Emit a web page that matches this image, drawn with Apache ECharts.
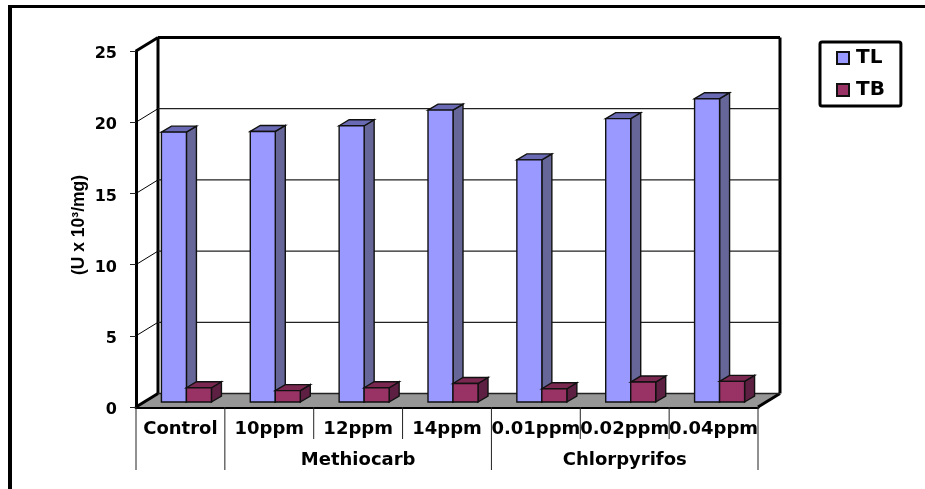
<!DOCTYPE html>
<html>
<head>
<meta charset="utf-8">
<style>html,body{margin:0;padding:0;background:#fff}#chart{width:925px;height:489px}</style>
<script src="https://cdn.jsdelivr.net/npm/echarts@6/dist/echarts.min.js"></script>
</head>
<body>
<div id="chart"></div>
<script>
var categories = ['Control', '10ppm', '12ppm', '14ppm', '0.01ppm', '0.02ppm', '0.04ppm'];
var groupLabels = ['', '', 'Methiocarb', '', '', 'Chlorpyrifos', ''];
var groupEdges = [0, 1, 4, 7];
var yTicks = [0, 5, 10, 15, 20, 25];
var tlValues = [18.95, 19.0, 19.4, 20.5, 17.0, 19.9, 21.3];
var tbValues = [1.0, 0.8, 1.0, 1.3, 0.93, 1.4, 1.45];

// fake 3d: how far the back wall and the bars sit from the front plane (px)
var WALL_DX = 22, WALL_DY = -13.5;
var BAR_DX = 6, BAR_DY = -5;
var BAR_W = 25, DEPTH_X = 10, DEPTH_Y = 6;
var FONT = '"DejaVu Sans"';

var chart = echarts.init(document.getElementById('chart'));

function poly(points, fill) {
  return {
    type: 'polygon',
    shape: { points: points },
    style: { fill: fill, stroke: '#111', lineWidth: 1.4 }
  };
}

function line(x1, y1, x2, y2, width, color) {
  return {
    type: 'line',
    shape: { x1: x1, y1: y1, x2: x2, y2: y2 },
    style: { stroke: color || '#000', lineWidth: width }
  };
}

// back wall, floor and the diagonal lines, one item for each y tick
function renderWall(params, api) {
  var v = api.value(1);
  var p = api.coord([0, v]);
  var band = api.size([1, 0])[0];
  var left = p[0] - band / 2;
  var right = left + band * categories.length;
  var y = p[1];
  var children = [];
  if (v === 0) {
    children.push({
      type: 'polygon',
      shape: { points: [[left, y], [left + WALL_DX, y + WALL_DY], [right + WALL_DX, y + WALL_DY], [right, y]] },
      style: { fill: '#969696' }
    });
    var topY = api.coord([0, yTicks[yTicks.length - 1]])[1];
    children.push(line(left + WALL_DX, y + WALL_DY, left + WALL_DX, topY + WALL_DY, 3));
    children.push(line(right + WALL_DX, y + WALL_DY, right + WALL_DX, topY + WALL_DY, 3));
    children.push(line(right + WALL_DX, y + WALL_DY, right, y, 3));
    children.push(line(left + WALL_DX, y + WALL_DY, right + WALL_DX, y + WALL_DY, 1.5, '#222'));
    children.push(line(left, y, left + WALL_DX, y + WALL_DY, 3));
  } else if (v === yTicks[yTicks.length - 1]) {
    children.push(line(left + WALL_DX, y + WALL_DY, right + WALL_DX, y + WALL_DY, 3));
    children.push(line(left, y, left + WALL_DX, y + WALL_DY, 3));
  } else {
    children.push(line(left + WALL_DX, y + WALL_DY, right + WALL_DX, y + WALL_DY, 1.2, '#222'));
    children.push(line(left, y, left + WALL_DX, y + WALL_DY, 1));
  }
  return { type: 'group', children: children };
}

function makeBar(shift, top, side) {
  return function (params, api) {
    var i = api.value(0);
    var p = api.coord([i, api.value(1)]);
    var base = api.coord([i, 0]);
    var x0 = p[0] + BAR_DX + shift;
    var x1 = x0 + BAR_W;
    var yt = p[1] + BAR_DY;
    var yb = base[1] + BAR_DY;
    return {
      type: 'group',
      children: [
        poly([[x1, yb], [x1 + DEPTH_X, yb - DEPTH_Y], [x1 + DEPTH_X, yt - DEPTH_Y], [x1, yt]], side),
        poly([[x0, yt], [x0 + DEPTH_X, yt - DEPTH_Y], [x1 + DEPTH_X, yt - DEPTH_Y], [x1, yt]], top),
        poly([[x0, yb], [x0, yt], [x1, yt], [x1, yb]], api.visual('color'))
      ]
    };
  };
}

// separators for both label rows: short for categories, long for groups
function renderEdges(params, api) {
  var p = api.coord([0, 0]);
  var band = api.size([1, 0])[0];
  var x = p[0] - band / 2 + band * api.value(0);
  var isGroup = groupEdges.indexOf(api.value(0)) >= 0;
  return line(x, p[1], x, p[1] + (isGroup ? 63 : 32), 1, '#222');
}

function indexed(values) {
  return values.map(function (v, i) { return [i, v]; });
}

var option = {
  backgroundColor: '#fff',
  animation: false,
  grid: { left: 136, top: 51, width: 622, height: 356 },
  legend: {
    left: 820,
    top: 42,
    orient: 'vertical',
    data: ['TL', 'TB'],
    icon: 'rect',
    itemWidth: 12,
    itemHeight: 12,
    itemGap: 12,
    padding: [6, 16, 6, 16],
    borderColor: '#000',
    borderWidth: 3,
    borderRadius: 2,
    textStyle: { fontFamily: FONT, fontWeight: 'bold', fontSize: 20, color: '#000', padding: [0, 0, 0, 2] }
  },
  xAxis: [
    {
      type: 'category',
      data: categories,
      position: 'bottom',
      axisLine: { lineStyle: { color: '#000', width: 3 } },
      axisTick: { show: false },
      axisLabel: { interval: 0, margin: 13, hideOverlap: false, fontFamily: FONT, fontWeight: 'bold', fontSize: 18, color: '#000' }
    },
    {
      type: 'category',
      data: groupLabels,
      position: 'bottom',
      axisLine: { show: false },
      axisTick: { show: false },
      axisLabel: { interval: 0, margin: 44, hideOverlap: false, fontFamily: FONT, fontWeight: 'bold', fontSize: 18, color: '#000' }
    }
  ],
  yAxis: {
    type: 'value',
    min: 0,
    max: 25,
    interval: 5,
    name: '(U x 10³/mg)',
    nameLocation: 'middle',
    nameRotate: 90,
    nameGap: 48,
    nameMoveOverlap: false,
    nameTextStyle: { fontFamily: 'Liberation Sans', fontWeight: 'bold', fontSize: 17.5, color: '#000', padding: [0, 0, 0, 8] },
    axisLine: { show: true, lineStyle: { color: '#000', width: 3 } },
    axisTick: { show: true, length: 6, lineStyle: { color: '#222', width: 1 } },
    splitLine: { show: false },
    axisLabel: { margin: 19, verticalAlign: 'top', padding: [-5, 0, 0, 0], fontFamily: FONT, fontWeight: 'bold', fontSize: 16, color: '#000' }
  },
  series: [
    {
      name: 'wall',
      type: 'custom',
      z: 1,
      clip: false,
      silent: true,
      renderItem: renderWall,
      data: yTicks.map(function (v) { return [0, v]; })
    },
    {
      name: 'edges',
      type: 'custom',
      z: 1,
      clip: false,
      silent: true,
      renderItem: renderEdges,
      data: [0, 1, 2, 3, 4, 5, 6, 7].map(function (e) { return [e, 0]; })
    },
    {
      name: 'TL',
      type: 'custom',
      z: 3,
      clip: false,
      renderItem: makeBar(-25, '#6a6ab4', '#666699'),
      itemStyle: { color: '#9999ff', borderColor: '#111', borderWidth: 1 },
      data: indexed(tlValues)
    },
    {
      name: 'TB',
      type: 'custom',
      z: 3,
      clip: false,
      renderItem: makeBar(0, '#7a2850', '#5e2042'),
      itemStyle: { color: '#993366', borderColor: '#111', borderWidth: 1 },
      data: indexed(tbValues)
    }
  ],
  graphic: [
    // outer frame of the scanned figure, only top and left were there
    { type: 'rect', shape: { x: 8, y: 5, width: 917, height: 3 }, style: { fill: '#000' } },
    { type: 'rect', shape: { x: 8, y: 5, width: 4, height: 484 }, style: { fill: '#000' } }
  ]
};

chart.setOption(option);
</script>
</body>
</html>
